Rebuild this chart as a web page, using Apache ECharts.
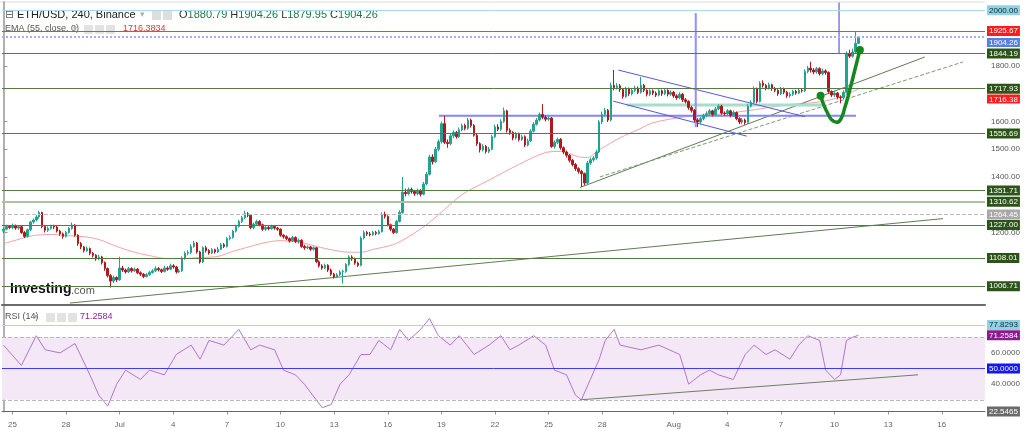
<!DOCTYPE html>
<html><head><meta charset="utf-8">
<script src="https://cdn.jsdelivr.net/npm/echarts@6/dist/echarts.min.js"></script>
<style>html,body{margin:0;padding:0;background:#fff}#c{width:1024px;height:431px}</style>
</head><body><div id="c"></div><script>
// ---------- data ----------
const openFirst = 1205;
const closes = [
1212,1222,1218,1225,1216,1221,1200,1186,1210,1238,1245,1256,
1272,1222,1208,1215,1222,1220,1205,1195,1186,1200,1215,1227,
1190,1160,1148,1135,1142,1125,1118,1105,1112,1092,1070,1045,
1025,1038,1030,1072,1065,1058,1070,1062,1068,1055,1050,1042,
1048,1056,1062,1070,1066,1060,1072,1068,1080,1076,1058,1062,
1108,1125,1128,1150,1162,1130,1094,1145,1135,1126,1138,1130,
1140,1156,1150,1178,1182,1205,1222,1240,1253,1268,1262,1218,
1230,1240,1228,1212,1218,1214,1222,1216,1212,1190,1185,1178,
1170,1182,1168,1172,1150,1145,1148,1140,1145,1095,1080,1072,
1082,1065,1050,1040,1048,1058,1060,1085,1112,1105,1090,1082,
1180,1200,1195,1192,1200,1196,1203,1265,1258,1228,1212,1200,
1240,1272,1345,1340,1355,1348,1340,1352,1338,1375,1410,1472,
1455,1500,1527,1592,1525,1520,1548,1560,1545,1570,1585,1575,
1605,1585,1550,1520,1498,1510,1492,1500,1545,1580,1572,1600,
1638,1568,1560,1540,1555,1535,1545,1515,1530,1565,1590,1605,
1625,1615,1608,1612,1510,1525,1535,1505,1490,1478,1460,1445,
1430,1420,1412,1378,1450,1462,1468,1490,1598,1625,1640,1605,
1730,1722,1728,1715,1690,1718,1700,1712,1720,1705,1730,1712,
1698,1710,1702,1695,1710,1700,1712,1698,1705,1692,1685,1698,
1678,1672,1650,1640,1605,1598,1610,1622,1628,1638,1625,1645,
1655,1630,1628,1638,1622,1632,1610,1598,1605,1596,1655,1668,
1718,1672,1738,1730,1720,1732,1718,1712,1700,1718,1705,1692,
1698,1708,1702,1712,1710,1780,1792,1785,1778,1790,1772,1782,
1776,1708,1695,1702,1688,1685,1705,1845,1835,1850,1880.79,1904.26];
const highs = [
1218,1228,1226,1232,1229,1227,1224,1205,1214,1242,1250,1262,
1278,1275,1226,1222,1228,1228,1224,1210,1200,1206,1220,1236,
1230,1194,1166,1152,1150,1146,1130,1122,1120,1116,1096,1074,
1050,1045,1042,1113,1080,1070,1076,1075,1074,1072,1060,1054,
1054,1062,1068,1078,1076,1070,1080,1078,1088,1086,1080,1068,
1114,1132,1136,1158,1170,1166,1134,1150,1152,1140,1144,1142,
1148,1162,1162,1184,1190,1210,1228,1246,1260,1278,1274,1265,
1236,1246,1244,1232,1224,1224,1228,1226,1220,1215,1195,1190,
1182,1188,1186,1178,1176,1156,1154,1152,1150,1148,1100,1086,
1088,1086,1070,1055,1054,1064,1066,1090,1118,1118,1110,1095,
1186,1208,1206,1202,1206,1206,1210,1272,1275,1262,1232,1216,
1246,1280,1400,1358,1362,1362,1354,1358,1356,1382,1418,1480,
1482,1508,1535,1600,1620,1535,1556,1568,1566,1578,1592,1592,
1612,1610,1590,1555,1525,1518,1515,1508,1552,1588,1590,1608,
1650,1642,1575,1565,1562,1560,1552,1550,1538,1572,1598,1612,
1632,1662,1622,1620,1616,1532,1542,1540,1510,1495,1482,1465,
1450,1435,1426,1416,1458,1470,1476,1498,1605,1635,1648,1645,
1740,1785,1738,1735,1720,1725,1722,1720,1728,1726,1760,1735,
1716,1716,1715,1708,1716,1715,1720,1716,1712,1710,1698,1705,
1702,1684,1676,1656,1645,1612,1616,1628,1636,1645,1642,1652,
1662,1660,1636,1644,1642,1640,1636,1615,1612,1610,1662,1676,
1726,1722,1745,1748,1735,1740,1736,1724,1716,1724,1722,1710,
1705,1714,1714,1718,1718,1788,1800,1815,1792,1796,1795,1790,
1788,1780,1712,1710,1706,1694,1712,1852,1858,1862,1922,1904.26];
const lows = [
1198,1208,1212,1212,1210,1210,1195,1180,1182,1205,1232,1240,
1250,1215,1200,1202,1210,1212,1200,1188,1178,1182,1196,1210,
1185,1152,1140,1128,1130,1118,1110,1098,1100,1085,1062,1038,
1002,1018,1022,1026,1058,1052,1054,1056,1058,1050,1044,1036,
1038,1044,1052,1058,1060,1054,1056,1062,1064,1070,1052,1054,
1058,1102,1118,1122,1145,1124,1088,1090,1128,1120,1122,1124,
1126,1136,1144,1146,1172,1178,1200,1218,1235,1248,1255,1212,
1212,1225,1222,1206,1206,1208,1210,1210,1206,1185,1178,1172,
1164,1166,1162,1160,1145,1138,1140,1134,1135,1090,1074,1066,
1068,1058,1044,1034,1036,1044,1016,1055,1080,1098,1084,1076,
1078,1175,1188,1186,1188,1190,1192,1200,1250,1222,1205,1194,
1196,1236,1268,1330,1334,1340,1332,1334,1330,1334,1370,1405,
1445,1450,1492,1520,1518,1505,1514,1540,1538,1540,1564,1568,
1570,1578,1545,1512,1488,1492,1484,1486,1496,1540,1565,1566,
1595,1560,1552,1532,1535,1528,1530,1508,1510,1526,1560,1585,
1600,1608,1600,1602,1505,1502,1518,1498,1482,1470,1452,1438,
1422,1412,1365,1370,1374,1444,1455,1462,1486,1590,1618,1598,
1600,1712,1715,1706,1682,1685,1692,1694,1705,1698,1700,1705,
1690,1692,1695,1688,1690,1692,1695,1690,1692,1685,1678,1680,
1670,1665,1642,1632,1598,1580,1590,1604,1615,1622,1618,1620,
1640,1624,1620,1622,1615,1616,1604,1590,1590,1588,1592,1650,
1662,1665,1668,1722,1712,1715,1710,1705,1692,1695,1698,1685,
1686,1692,1696,1698,1704,1706,1774,1776,1770,1772,1765,1766,
1768,1700,1688,1688,1680,1665,1680,1700,1828,1830,1845,1879.95];

const slotCount = 330;
const tickIdx  = [3,21,39,57,75,93,111,129,147,165,183,201,225,243,261,279,297,315];
const tickText = ['25','28','Jul','4','7','10','13','16','19','22','25','28','Aug','4','7','10','13','16'];

const emaIdx = [0,6,10,16,21,27,32,38,43,49,55,60,66,72,77,83,88,93,96,100,105,111,116,120,124,131,136,143,154,162,173,182,187,193,196,200,207,213,218,229,241,252,263,274,281,287];
const emaVal = [1160,1178,1189,1193,1189,1185,1175,1150,1132,1117,1106,1106,1110,1114,1132,1150,1164,1171,1168,1164,1150,1136,1129,1129,1139,1157,1185,1236,1337,1383,1445,1488,1492,1473,1470,1498,1541,1570,1595,1617,1627,1642,1660,1670,1688,1716.38];

const rsiIdx = [0,6,11,14,19,24,29,32,35,38,41,46,49,54,58,63,66,69,74,79,83,86,91,94,98,101,105,107,110,113,116,120,123,126,130,133,136,140,143,146,150,153,158,163,167,170,173,178,182,185,189,192,194,197,200,202,205,207,214,220,227,230,234,237,240,245,249,252,256,259,264,267,270,274,276,279,281,283,285,287];
const rsiVal = [65,52,71,62,60,66,46,33,26,40,49,43,49,46,59,65,56,68,65,75,62,65,62,49,46,40,30,25,27,40,46,59,59,68,62,75,68,75,82,71,65,71,59,65,71,62,65,71,65,49,46,33,30,43,56,68,75,65,62,65,59,40,46,49,46,43,59,65,59,62,56,65,71,68,49,43,46,68,70,71.2584];

const priceTicks = [1200,1400,1500,1600,1800];
const rsiTicks = [40,60];
const levelBlue2000 = 2000.00, levelRed = 1925.67, levelLast = 1904.26;
const greenLevels = [1844.19,1717.93,1556.69,1351.71,1227.00,1108.01,1006.71];
const lightGreenLevel = 1310.62, grayDashLevel = 1264.45;
const emaLast = 1716.38, emaLegend = 1716.3834;
const rsiUpper = 77.8293, rsiLast = 71.2584, rsiMid = 50.0000, rsiLow = 22.5465, rsiOB = 70, rsiOS = 30;

// drawn annotations (slot index, price)
const longTrend = [[22.3,946],[315.4,1250]];
const riseTrend = [[193.5,1362],[309.3,1832]];
const dashTrend = [[200.2,1400],[322.1,1814]];
const blueFlat  = [[146.2,1620.5],[286.2,1620.5]];
const chanUpper = [[206.4,1785],[269.0,1617]];
const chanLower = [[204.7,1673],[249.5,1547]];
const tealFlat  = [[209.2,1659],[275.1,1659]];
const vLine1 = [[232.4,1990],[232.4,1579]];
const vLine2 = [[280.5,2028],[280.5,1846]];
const cupCurve = [[274.3,1692.5],[275.4,1659],[276.8,1626.6],[278.1,1605],[279.7,1596.7],[281.1,1608.6],[282.4,1648],[284.1,1713],[285.8,1785],[287.5,1857]];
const rsiTrend = [[193.5,30],[307,46]];

// ---------- build ----------
const FONT = '"Liberation Sans", Arial, sans-serif';
const CLEAR = 'rgba(0,0,0,0)';
const cats = [];
for (let i = 0; i < slotCount; i++) { const t = tickIdx.indexOf(i); cats.push(t >= 0 ? tickText[t] : ''); }
const candles = closes.map((c, i) => {
  const o = i === 0 ? openFirst : closes[i - 1];
  return [o, c, lows[i], highs[i]];
});
const last = candles[candles.length - 1];
const pairs = (ix, v) => ix.map((k, i) => [k, v[i]]);

function tag(value, dec, bg, fg, shift) {
  const txt = value.toFixed(dec);
  const base = {fontSize: 8, lineHeight: 9, fontFamily: FONT, padding: [1,2,0,2], backgroundColor: bg, color: fg};
  if (!shift) return Object.assign({show: true, position: 'end', distance: 2, formatter: txt}, base);
  return {show: true, position: 'end', distance: 2, formatter: '{s| }\n{a|' + txt + '}',
    rich: {s: {lineHeight: shift * 2, fontSize: 1}, a: base}};
}
function lvl(value, color, width, type, label) {
  return {yAxis: value, lineStyle: {color: color, width: width, type: type}, label: label};
}
const DG = '#567a45', DGBG = '#2c5419';

const priceMarks = [
  lvl(levelBlue2000, '#a6dce8', 1, 'solid', tag(levelBlue2000, 2, '#8fd3e2', '#123', 0)),
  lvl(levelRed, '#ff3a3a', 1, 'solid', tag(levelRed, 2, '#ff1c1c', '#fff', 0)),
  lvl(levelLast, '#9fb0f5', 2, 'dotted', tag(levelLast, 2, '#5a7de3', '#fff', 5.5)),
  lvl(lightGreenLevel, '#aac4a2', 2, 'solid', tag(lightGreenLevel, 2, DGBG, '#fff', 0)),
  lvl(grayDashLevel, '#bdbdbd', 1, 'dashed', tag(grayDashLevel, 2, '#a8a8a8', '#fff', 0))
].concat(greenLevels.map(v => lvl(v, DG, 1, 'solid', tag(v, 2, DGBG, '#fff', 0))));

function overlay(data, color, width, type, extra) {
  return Object.assign({type: 'line', xAxisIndex: 2, yAxisIndex: 0, data: data, symbol: 'none', silent: true,
    lineStyle: {color: color, width: width, type: type || 'solid'}, z: 3}, extra || {});
}

const chart = echarts.init(document.getElementById('c'), null, {renderer: 'canvas'});
chart.setOption({
  animation: false,
  backgroundColor: '#fff',
  grid: [
    {left: 2, right: 39, top: 2, height: 303},
    {left: 2, right: 39, top: 306, height: 105.5}
  ],
  xAxis: [
    {type: 'category', gridIndex: 0, data: cats, boundaryGap: true,
      axisLine: {show: true, lineStyle: {color: '#6a6a6a', width: 2}}, axisTick: {show: false}, axisLabel: {show: false}, splitLine: {show: false}},
    {type: 'category', gridIndex: 1, data: cats, boundaryGap: true,
      axisLine: {show: true, lineStyle: {color: '#8a8a8a', width: 1}},
      axisTick: {show: true, alignWithLabel: true, length: 3, interval: (i, v) => v !== '', lineStyle: {color: '#999'}},
      axisLabel: {interval: (i, v) => v !== '', fontSize: 8, color: '#666', fontFamily: FONT, margin: 9}, splitLine: {show: false}},
    {type: 'value', gridIndex: 0, min: -0.5, max: slotCount - 0.5, show: false},
    {type: 'value', gridIndex: 1, min: -0.5, max: slotCount - 0.5, show: false}
  ],
  yAxis: [
    {type: 'value', gridIndex: 0, position: 'right', min: 939, max: 2030, scale: true,
      axisLine: {show: true, lineStyle: {color: '#b0b0b0', width: 2}},
      axisTick: {show: true, length: 4, customValues: priceTicks, lineStyle: {color: '#999'}},
      axisLabel: {customValues: priceTicks, formatter: v => priceTicks.indexOf(v) >= 0 ? v.toFixed(2) : '', fontSize: 8, color: '#555', fontFamily: FONT, margin: 6},
      splitLine: {show: false}},
    {type: 'value', gridIndex: 1, position: 'right', min: rsiLow, max: 90, scale: true,
      axisLine: {show: true, lineStyle: {color: '#b0b0b0', width: 2}},
      axisTick: {show: true, length: 4, customValues: rsiTicks, lineStyle: {color: '#999'}},
      axisLabel: {customValues: rsiTicks, formatter: v => rsiTicks.indexOf(v) >= 0 ? v.toFixed(4) : '', fontSize: 8, color: '#555', fontFamily: FONT, margin: 6},
      splitLine: {show: false}}
  ],
  series: [
    {type: 'candlestick', xAxisIndex: 0, yAxisIndex: 0, data: candles, barWidth: 2, z: 4,
      itemStyle: {color: '#22a391', color0: '#b3161b', borderColor: '#22a391', borderColor0: '#b3161b', borderWidth: 1},
      markLine: {symbol: ['none','none'], silent: true, animation: false, data: priceMarks}},
    {type: 'line', xAxisIndex: 2, yAxisIndex: 0, data: pairs(emaIdx, emaVal), symbol: 'none', smooth: 0.3, silent: true, z: 3,
      lineStyle: {color: '#f5a3a3', width: 1},
      markLine: {symbol: ['none','none'], silent: true, animation: false,
        data: [lvl(emaLast, CLEAR, 1, 'solid', tag(emaLast, 2, '#ff1c1c', '#fff', 10))]}},
    overlay(longTrend, '#5f7d52', 1),
    overlay(riseTrend, '#5f7d52', 1),
    overlay(dashTrend, '#7f9a72', 1, 'dashed'),
    overlay(tealFlat, '#a9ddcb', 3),
    overlay(blueFlat, '#8585ff', 2),
    overlay(chanUpper, '#5656e6', 1),
    overlay(chanLower, '#5656e6', 1),
    overlay(vLine1, '#8f8fff', 2),
    overlay(vLine2, '#3d3dd0', 1),
    overlay(cupCurve, '#14871e', 3.5, 'solid', {smooth: 0.5, z: 6, showSymbol: true, symbol: 'circle',
      symbolSize: (v, p) => (p.dataIndex === 0 || p.dataIndex === cupCurve.length - 1) ? 8 : 0,
      itemStyle: {color: '#14871e'}}),
    {type: 'line', xAxisIndex: 3, yAxisIndex: 1, data: pairs(rsiIdx, rsiVal), symbol: 'none', silent: true, z: 4,
      lineStyle: {color: '#b573d2', width: 1},
      markArea: {silent: true, itemStyle: {color: '#f4e8f6'}, data: [[{yAxis: rsiOS}, {yAxis: rsiOB}]]},
      markLine: {symbol: ['none','none'], silent: true, animation: false, data: [
        {yAxis: rsiOB, lineStyle: {color: '#b8b8b8', type: 'dashed', width: 1}, label: {show: false}},
        {yAxis: rsiOS, lineStyle: {color: '#b8b8b8', type: 'dashed', width: 1}, label: {show: false}},
        lvl(rsiUpper, '#9fdbe6', 1, 'solid', tag(rsiUpper, 4, '#8fd3e2', '#123', 0)),
        lvl(rsiLast, CLEAR, 1, 'solid', tag(rsiLast, 4, '#8a1c8f', '#fff', 0)),
        lvl(rsiMid, '#3b3bff', 1, 'solid', tag(rsiMid, 4, '#1414ff', '#fff', 0)),
        lvl(rsiLow, '#666', 1, 'solid', tag(rsiLow, 4, '#6a6a6a', '#fff', 0))
      ]}},
    {type: 'line', xAxisIndex: 3, yAxisIndex: 1, data: rsiTrend, symbol: 'none', silent: true, z: 3,
      lineStyle: {color: '#6e8064', width: 1}}
  ],
  graphic: [
    {type: 'line', shape: {x1: 0, y1: 2, x2: 985, y2: 2}, style: {stroke: '#dcdcdc', lineWidth: 1}, silent: true},
    {type: 'text', x: 5, y: 15, style: {text: '\u229F', font: '11px "DejaVu Sans"', fill: '#666', verticalAlign: 'middle'}},
    {type: 'text', x: 17, y: 15, style: {text: 'ETH/USD, 240, Binance', font: '11px ' + FONT, fill: '#222', verticalAlign: 'middle'}},
    {type: 'text', x: 140, y: 15, style: {text: '\u25BE', font: '9px "DejaVu Sans"', fill: '#b0b0b0', verticalAlign: 'middle'}},
    {type: 'rect', shape: {x: 152, y: 10, width: 9, height: 10, r: 1}, style: {fill: '#dedede'}},
    {type: 'rect', shape: {x: 163, y: 10, width: 9, height: 10, r: 1}, style: {fill: '#dedede'}},
    {type: 'text', x: 179, y: 15, style: {
      text: '{l|O}{v|' + last[0].toFixed(2) + '} {l|H}{v|' + last[3].toFixed(2) + '} {l|L}{v|' + last[2].toFixed(2) + '} {l|C}{v|' + last[1].toFixed(2) + '}',
      font: '11px ' + FONT, verticalAlign: 'middle',
      rich: {l: {fill: '#333', font: '11px ' + FONT}, v: {fill: '#1f7a3c', font: '11px ' + FONT}}}},
    {type: 'text', x: 5, y: 29, style: {text: 'EMA (55, close, 0)', font: '9px ' + FONT, fill: '#555', verticalAlign: 'middle'}},
    {type: 'text', x: 73, y: 29, style: {text: '\u25BE', font: '8px "DejaVu Sans"', fill: '#b0b0b0', verticalAlign: 'middle'}},
    {type: 'rect', shape: {x: 84, y: 25, width: 9, height: 9, r: 1}, style: {fill: '#e2e2e2'}},
    {type: 'rect', shape: {x: 95, y: 25, width: 9, height: 9, r: 1}, style: {fill: '#e2e2e2'}},
    {type: 'rect', shape: {x: 106, y: 25, width: 9, height: 9, r: 1}, style: {fill: '#e2e2e2'}},
    {type: 'text', x: 123, y: 29, style: {text: emaLegend.toFixed(4), font: '9px ' + FONT, fill: '#e8312f', verticalAlign: 'middle'}},
    {type: 'text', x: 5, y: 317, style: {text: 'RSI (14)', font: '9px ' + FONT, fill: '#555', verticalAlign: 'middle'}},
    {type: 'text', x: 34, y: 317, style: {text: '\u25BE', font: '8px "DejaVu Sans"', fill: '#b0b0b0', verticalAlign: 'middle'}},
    {type: 'rect', shape: {x: 46, y: 313, width: 9, height: 9, r: 1}, style: {fill: '#e2e2e2'}},
    {type: 'rect', shape: {x: 57, y: 313, width: 9, height: 9, r: 1}, style: {fill: '#e2e2e2'}},
    {type: 'rect', shape: {x: 68, y: 313, width: 9, height: 9, r: 1}, style: {fill: '#e2e2e2'}},
    {type: 'text', x: 80, y: 317, style: {text: rsiLast.toFixed(4), font: '9px ' + FONT, fill: '#8e2596', verticalAlign: 'middle'}},
    {type: 'text', x: 10, y: 289, style: {text: 'Investing', font: 'bold 14px ' + FONT, fill: '#111', verticalAlign: 'middle'}},
    {type: 'text', x: 71, y: 291, style: {text: '.com', font: '11px ' + FONT, fill: '#555', verticalAlign: 'middle'}}
  ]
});
</script></body></html>
